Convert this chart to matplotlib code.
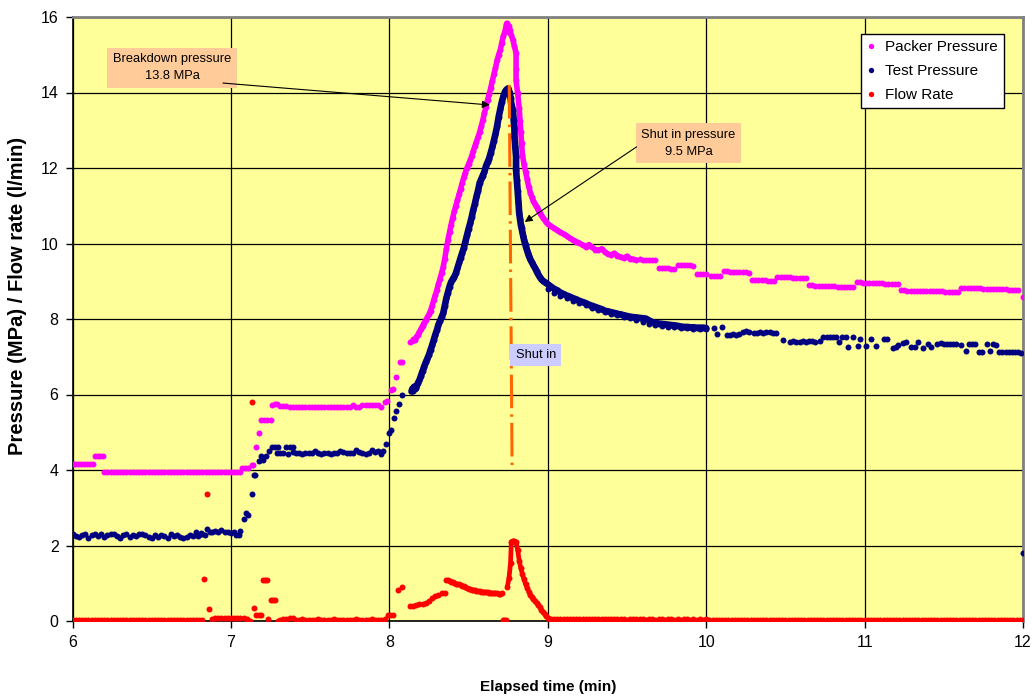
import numpy as np
import matplotlib.pyplot as plt

plt.rcParams['font.family'] = ['Liberation Sans', 'DejaVu Sans']

# ---------------- packer pressure (MPa) ----------------
# evenly logged stretches: (start min, end min, readings)
packer_runs = [
    (6.00, 6.13, [4.16, 4.16, 4.15, 4.16, 4.17, 4.16, 4.15, 4.16]),
    (6.145, 6.19, [4.36, 4.37, 4.37, 4.36]),
    (6.20, 7.06, [3.95, 3.96, 3.95, 3.95, 3.94, 3.95, 3.96, 3.95, 3.95, 3.95, 3.94,
                  3.95, 3.95, 3.96, 3.95, 3.95, 3.94, 3.95, 3.95, 3.95, 3.96, 3.95,
                  3.94, 3.95, 3.95, 3.95, 3.95, 3.96, 3.95, 3.94, 3.95, 3.95, 3.95,
                  3.96, 3.95, 3.95, 3.94, 3.95, 3.95, 3.95, 3.96, 3.95, 3.95, 3.95]),
    (7.31, 7.95, [5.70, 5.69, 5.70, 5.68, 5.68, 5.68, 5.67, 5.68, 5.68, 5.67, 5.66,
                  5.67, 5.68, 5.68, 5.67, 5.67, 5.68, 5.67, 5.66, 5.67, 5.68, 5.67,
                  5.66, 5.71, 5.68, 5.66, 5.71, 5.72, 5.71, 5.72, 5.72, 5.71, 5.66]),
    (9.58, 9.68, [9.58, 9.57, 9.56, 9.56, 9.55, 9.55]),
    (9.70, 9.80, [9.36, 9.35, 9.34, 9.34, 9.33, 9.33]),
    (9.82, 9.92, [9.44, 9.43, 9.43, 9.42, 9.42, 9.41]),
    (9.94, 10.00, [9.20, 9.19, 9.19, 9.18]),
    (10.03, 10.09, [9.15, 9.14, 9.14, 9.13]),
    (10.11, 10.27, [9.26, 9.26, 9.25, 9.25, 9.25, 9.24, 9.24, 9.24, 9.23]),
    (10.29, 10.43, [9.03, 9.03, 9.02, 9.02, 9.02, 9.01, 9.01, 9.01]),
    (10.45, 10.63, [9.11, 9.11, 9.10, 9.10, 9.10, 9.09, 9.09, 9.09, 9.08, 9.08]),
    (10.65, 10.93, [8.89, 8.89, 8.88, 8.88, 8.88, 8.87, 8.87, 8.87, 8.87, 8.86, 8.86,
                    8.86, 8.86, 8.85, 8.85]),
    (10.95, 11.21, [8.97, 8.97, 8.96, 8.96, 8.96, 8.95, 8.95, 8.95, 8.95, 8.94, 8.94,
                    8.94, 8.93, 8.93]),
    (11.23, 11.59, [8.76, 8.76, 8.75, 8.75, 8.75, 8.75, 8.74, 8.74, 8.74, 8.74, 8.73,
                    8.73, 8.73, 8.73, 8.72, 8.72, 8.72, 8.71, 8.71]),
    (11.61, 11.97, [8.82, 8.82, 8.82, 8.81, 8.81, 8.81, 8.81, 8.80, 8.80, 8.80, 8.80,
                    8.79, 8.79, 8.79, 8.79, 8.78, 8.78, 8.78, 8.78]),
]
# individual readings around the pressure steps: (min, MPa)
packer_points = [
    (7.07, 4.04), (7.09, 4.05), (7.11, 4.05), (7.13, 4.13), (7.14, 4.14),
    (7.16, 4.62), (7.18, 4.99), (7.19, 5.32), (7.21, 5.33), (7.23, 5.32),
    (7.25, 5.32), (7.26, 5.71), (7.28, 5.74), (7.29, 5.75),
    (7.97, 5.79), (7.985, 5.82), (8.01, 6.13), (8.025, 6.14), (8.045, 6.47),
    (8.07, 6.85), (8.08, 6.87), (8.13, 7.40), (8.14, 7.42), (8.15, 7.46), (8.16, 7.44),
    (12.00, 8.57),
]
# breakdown cycle, logged densely (one reading every 0.01 min on the rise)
packer_rise = (8.17, 8.74, [7.52, 7.58, 7.66, 7.74, 7.82, 7.90, 7.97, 8.04, 8.12, 8.22,
                            8.35, 8.50, 8.63, 8.77, 8.92, 9.07, 9.22, 9.38, 9.60, 9.85,
                            10.10, 10.30, 10.50, 10.68, 10.85, 11.00, 11.15, 11.30, 11.45,
                            11.60, 11.75, 11.88, 12.00, 12.10, 12.20, 12.32, 12.45, 12.58,
                            12.70, 12.82, 12.95, 13.10, 13.27, 13.45, 13.62, 13.80, 13.95,
                            14.12, 14.30, 14.48, 14.65, 14.85, 15.00, 15.12, 15.32, 15.50,
                            15.62, 15.83])
packer_fall = [
    (8.745, 15.72), (8.75, 15.60), (8.755, 15.76), (8.76, 15.66), (8.77, 15.52),
    (8.78, 15.39), (8.79, 15.22), (8.80, 15.04), (8.80, 14.62), (8.80, 14.32),
    (8.81, 13.98), (8.82, 13.58), (8.825, 13.25), (8.83, 12.95), (8.835, 12.65),
    (8.84, 12.35), (8.85, 12.10), (8.86, 11.90), (8.87, 11.70), (8.88, 11.50),
    (8.89, 11.35), (8.90, 11.22), (8.91, 11.12), (8.92, 11.04), (8.93, 10.96),
    (8.94, 10.90), (8.95, 10.82), (8.96, 10.75), (8.97, 10.68), (8.98, 10.62),
    (8.99, 10.57), (9.00, 10.52), (9.02, 10.46), (9.04, 10.40), (9.06, 10.35),
    (9.08, 10.30), (9.10, 10.25), (9.12, 10.20), (9.14, 10.14), (9.16, 10.09),
    (9.18, 10.05), (9.20, 10.01), (9.22, 9.96), (9.24, 9.92), (9.26, 9.97),
    (9.28, 9.90), (9.30, 9.84), (9.32, 9.82), (9.34, 9.86), (9.36, 9.78),
    (9.38, 9.72), (9.40, 9.70), (9.42, 9.74), (9.44, 9.68), (9.46, 9.64),
    (9.48, 9.62), (9.50, 9.66), (9.52, 9.60), (9.54, 9.58), (9.56, 9.56),
]

# ---------------- test interval pressure (MPa) ----------------
test_runs = [
    (6.00, 6.76, [2.30, 2.25, 2.22, 2.28, 2.30, 2.21, 2.28, 2.31, 2.24, 2.30, 2.22,
                  2.27, 2.31, 2.30, 2.26, 2.21, 2.29, 2.31, 2.22, 2.28, 2.25, 2.31,
                  2.30, 2.28, 2.22, 2.20, 2.27, 2.22, 2.29, 2.24, 2.21, 2.30, 2.26,
                  2.29, 2.23, 2.21, 2.22, 2.27, 2.24]),
    (7.41, 7.95, [4.45, 4.44, 4.43, 4.45, 4.44, 4.46, 4.50, 4.45, 4.43, 4.44, 4.45,
                  4.43, 4.44, 4.46, 4.50, 4.49, 4.45, 4.44, 4.46, 4.52, 4.47, 4.44,
                  4.42, 4.45, 4.52, 4.47, 4.50, 4.42]),
    # lower edge of the scattered band during the pressure decline
    (9.00, 10.00, [8.80, 8.70, 8.62, 8.55, 8.48, 8.42, 8.36, 8.30, 8.24, 8.19, 8.14,
                   8.10, 8.06, 8.02, 7.98, 7.93, 7.86, 7.83, 7.82, 7.80, 7.78, 7.76,
                   7.75, 7.74, 7.74, 7.73]),
]
test_points = [
    (6.78, 2.36), (6.79, 2.25), (6.80, 2.27), (6.81, 2.32), (6.82, 2.30),
    (6.835, 2.27), (6.85, 2.45), (6.865, 2.37), (6.88, 2.37), (6.90, 2.38),
    (6.92, 2.37), (6.94, 2.40), (6.96, 2.37), (6.98, 2.36), (7.00, 2.33),
    (7.02, 2.36), (7.035, 2.27), (7.05, 2.28), (7.06, 2.38),
    (7.08, 2.69), (7.095, 2.85), (7.105, 2.82), (7.13, 3.36), (7.145, 3.87),
    (7.155, 3.88), (7.175, 4.25), (7.19, 4.37), (7.205, 4.27), (7.22, 4.37),
    (7.24, 4.51), (7.26, 4.62), (7.28, 4.62), (7.29, 4.45), (7.30, 4.62),
    (7.31, 4.44), (7.33, 4.44), (7.35, 4.62), (7.36, 4.42), (7.37, 4.62),
    (7.39, 4.62), (7.39, 4.47),
    (7.96, 4.50), (7.98, 4.68), (8.00, 4.97), (8.01, 5.07), (8.03, 5.37),
    (8.045, 5.55), (8.06, 5.75), (8.08, 5.99),
    (10.05, 7.77), (10.07, 7.60), (10.10, 7.78), (10.13, 7.58), (10.15, 7.57),
    (10.17, 7.59), (10.19, 7.58), (10.21, 7.60), (10.23, 7.66), (10.25, 7.67),
    (10.27, 7.65), (10.30, 7.62), (10.32, 7.64), (10.34, 7.65), (10.36, 7.64),
    (10.38, 7.66), (10.40, 7.65), (10.42, 7.64), (10.44, 7.63), (10.485, 7.44),
    (10.53, 7.40), (10.55, 7.41), (10.57, 7.40), (10.59, 7.39), (10.61, 7.41),
    (10.63, 7.40), (10.65, 7.42), (10.67, 7.41), (10.69, 7.39), (10.72, 7.42),
    (10.74, 7.52), (10.76, 7.52), (10.78, 7.51), (10.80, 7.52), (10.82, 7.51),
    (10.84, 7.40), (10.86, 7.52), (10.88, 7.52), (10.895, 7.27), (10.93, 7.52),
    (10.96, 7.29), (10.97, 7.46), (11.01, 7.29), (11.04, 7.46), (11.07, 7.29),
    (11.12, 7.46), (11.14, 7.46), (11.18, 7.24), (11.20, 7.27), (11.21, 7.31),
    (11.24, 7.36), (11.26, 7.38), (11.29, 7.27), (11.32, 7.27), (11.34, 7.38),
    (11.37, 7.22), (11.40, 7.33), (11.42, 7.27), (11.46, 7.35), (11.48, 7.36),
    (11.50, 7.35), (11.52, 7.35), (11.54, 7.34), (11.56, 7.35), (11.58, 7.33),
    (11.61, 7.32), (11.64, 7.15), (11.66, 7.33), (11.68, 7.34), (11.70, 7.33),
    (11.72, 7.13), (11.74, 7.12), (11.77, 7.33), (11.79, 7.14), (11.81, 7.33),
    (11.83, 7.32), (11.85, 7.13), (11.87, 7.13), (11.89, 7.12), (11.91, 7.13),
    (11.93, 7.13), (11.95, 7.12), (11.97, 7.12), (11.99, 7.11), (12.00, 1.79),
]
test_start = [
    (8.14, 6.08), (8.145, 6.15), (8.15, 6.10), (8.155, 6.20), (8.16, 6.14),
    (8.165, 6.22), (8.17, 6.18),
]
test_rise = (8.18, 8.75, [6.30, 6.38, 6.50, 6.62, 6.74, 6.85, 6.95, 7.05, 7.18, 7.30,
                          7.44, 7.58, 7.70, 7.85, 7.95, 8.05, 8.15, 8.35, 8.55, 8.70,
                          8.86, 8.98, 9.05, 9.12, 9.21, 9.35, 9.50, 9.62, 9.75, 9.88,
                          10.05, 10.22, 10.38, 10.53, 10.70, 10.89, 11.05, 11.24, 11.40,
                          11.60, 11.70, 11.80, 11.90, 12.05, 12.15, 12.25, 12.40, 12.55,
                          12.72, 12.90, 13.10, 13.35, 13.55, 13.75, 13.90, 14.02, 14.08,
                          14.11])
test_fall = [
    (8.76, 14.00), (8.765, 13.85), (8.77, 13.70), (8.78, 13.54), (8.785, 13.27),
    (8.79, 13.05), (8.79, 12.83), (8.795, 12.56), (8.80, 12.30), (8.80, 11.95),
    (8.805, 11.68), (8.81, 11.40), (8.815, 11.10), (8.82, 10.80), (8.825, 10.65),
    (8.83, 10.50), (8.835, 10.40), (8.84, 10.30), (8.845, 10.20), (8.85, 10.10),
    (8.855, 10.02), (8.86, 9.95), (8.865, 9.88), (8.87, 9.80), (8.875, 9.74),
    (8.88, 9.68), (8.89, 9.58), (8.90, 9.50), (8.91, 9.42), (8.92, 9.35),
    (8.93, 9.26), (8.94, 9.18), (8.95, 9.11), (8.96, 9.05), (8.97, 9.01),
]
test_decay = (8.98, 10.00, [8.98, 8.92, 8.86, 8.80, 8.76, 8.70, 8.66, 8.62, 8.59, 8.55,
                            8.52, 8.48, 8.45, 8.42, 8.38, 8.35, 8.32, 8.29, 8.26, 8.22,
                            8.20, 8.18, 8.16, 8.14, 8.12, 8.10, 8.08, 8.06, 8.05, 8.04,
                            8.03, 8.02, 8.01, 7.96, 7.92, 7.90, 7.88, 7.87, 7.86, 7.85,
                            7.84, 7.83, 7.82, 7.80, 7.79, 7.79, 7.78, 7.78, 7.77, 7.77,
                            7.77, 7.76])

# ---------------- injection flow rate (l/min) ----------------
flow_runs = [
    (6.00, 6.82, [0.03, 0.02, 0.03, 0.02, 0.03, 0.03, 0.02, 0.03, 0.02, 0.03, 0.03,
                  0.02, 0.02, 0.03, 0.03, 0.02, 0.03, 0.02, 0.03, 0.03, 0.02, 0.03,
                  0.02, 0.03, 0.03, 0.02, 0.03, 0.02, 0.02, 0.03, 0.03, 0.02, 0.03,
                  0.02, 0.03, 0.03, 0.02, 0.03, 0.02, 0.03, 0.03, 0.02]),
    (6.88, 7.10, [0.05, 0.07, 0.08, 0.07, 0.07, 0.08, 0.07, 0.07, 0.08, 0.07, 0.07,
                  0.06]),
    (7.41, 7.97, [0.03, 0.02, 0.04, 0.03, 0.03, 0.02, 0.03, 0.04, 0.03, 0.02, 0.03,
                  0.03, 0.04, 0.03, 0.02, 0.03, 0.03, 0.02, 0.03, 0.04, 0.03, 0.02,
                  0.03, 0.03, 0.04, 0.03, 0.02, 0.03, 0.04]),
    (8.13, 8.35, [0.40, 0.40, 0.42, 0.44, 0.46, 0.48, 0.52, 0.62, 0.66, 0.70, 0.73,
                  0.75]),
    (8.36, 8.71, [1.09, 1.08, 1.06, 1.04, 1.02, 1.00, 0.99, 0.98, 0.97, 0.95, 0.94,
                  0.92, 0.90, 0.88, 0.86, 0.84, 0.83, 0.82, 0.81, 0.80, 0.79, 0.79,
                  0.78, 0.78, 0.77, 0.76, 0.76, 0.75, 0.74, 0.74, 0.73, 0.73, 0.73,
                  0.72, 0.72, 0.73]),
    (9.02, 10.00, [0.05, 0.04, 0.05, 0.05, 0.04, 0.05, 0.04, 0.05, 0.05, 0.04, 0.04,
                   0.05, 0.04, 0.04, 0.05, 0.04, 0.04, 0.05, 0.04, 0.04, 0.04, 0.05,
                   0.04, 0.04, 0.03, 0.04, 0.04, 0.05, 0.04, 0.04, 0.03, 0.04, 0.04,
                   0.03, 0.04, 0.04, 0.03, 0.04, 0.04, 0.03, 0.04, 0.03, 0.04, 0.04,
                   0.03, 0.04, 0.03, 0.04, 0.03, 0.04]),
    (10.02, 12.00, [0.03, 0.02, 0.03, 0.03, 0.02, 0.03, 0.02, 0.03, 0.03, 0.02, 0.03,
                    0.03, 0.02, 0.03, 0.02, 0.03, 0.03, 0.02, 0.03, 0.02, 0.03, 0.03,
                    0.02, 0.03, 0.03, 0.02, 0.03, 0.02, 0.03, 0.03, 0.02, 0.03, 0.03,
                    0.02, 0.03, 0.02, 0.03, 0.03, 0.02, 0.03, 0.03, 0.02, 0.03, 0.02,
                    0.03, 0.03, 0.02, 0.03, 0.03, 0.02, 0.03, 0.02, 0.03, 0.03, 0.02,
                    0.03, 0.03, 0.02, 0.03, 0.02, 0.03, 0.03, 0.02, 0.03, 0.03, 0.02,
                    0.03, 0.02, 0.03, 0.03, 0.02, 0.03, 0.03, 0.02, 0.03, 0.02, 0.03,
                    0.03, 0.02, 0.03, 0.03, 0.02, 0.03, 0.02, 0.03, 0.03, 0.02, 0.03,
                    0.03, 0.02, 0.03, 0.02, 0.03, 0.03, 0.02, 0.03, 0.03, 0.02, 0.03,
                    0.02]),
]
flow_points = [
    (6.83, 1.10), (6.847, 3.36), (6.86, 0.31),
    (7.12, 0.01), (7.13, 5.79), (7.145, 0.35), (7.16, 0.16), (7.175, 0.16),
    (7.19, 0.16), (7.205, 1.09), (7.215, 1.09), (7.225, 1.09), (7.235, 0.05),
    (7.25, 0.56), (7.265, 0.56), (7.28, 0.55), (7.295, 0.01), (7.31, 0.02),
    (7.33, 0.05), (7.35, 0.06), (7.37, 0.08), (7.39, 0.07),
    (7.99, 0.15), (8.005, 0.16), (8.02, 0.16), (8.055, 0.82), (8.08, 0.91),
    (8.715, 0.03), (8.725, 0.02), (8.735, 0.03),
]
flow_peak = [
    (8.745, 0.91), (8.755, 1.13), (8.765, 1.53), (8.77, 2.10), (8.78, 2.12),
    (8.79, 2.11), (8.80, 2.10), (8.81, 1.88), (8.82, 1.60), (8.83, 1.40),
    (8.84, 1.25), (8.85, 1.10), (8.86, 0.98), (8.87, 0.88), (8.88, 0.78),
    (8.89, 0.70), (8.90, 0.64), (8.91, 0.59), (8.92, 0.54), (8.93, 0.47),
    (8.94, 0.42), (8.95, 0.36), (8.96, 0.30), (8.97, 0.24), (8.98, 0.19),
    (8.99, 0.13), (9.00, 0.09), (9.01, 0.06),
]

# shut-in marker line and annotated values
shut_in_t = [8.757, 8.775]
shut_in_y = [14.2, 4.0]
breakdown_p = 13.8
shut_in_p = 9.5


def run_xy(run):
    a, b, v = run
    return np.linspace(a, b, len(v)), np.asarray(v, float)


def pts_xy(points):
    p = np.asarray(points, float)
    return p[:, 0], p[:, 1]


def collect(runs, points):
    parts = [run_xy(r) for r in runs] + [pts_xy(points)]
    return (np.concatenate([p[0] for p in parts]),
            np.concatenate([p[1] for p in parts]))


def chain(*parts):
    return (np.concatenate([p[0] for p in parts]),
            np.concatenate([p[1] for p in parts]))


pk_t, pk_v = collect(packer_runs, packer_points)
tp_t, tp_v = collect(test_runs, test_points)
fl_t, fl_v = collect(flow_runs, flow_points)

# densely logged stretches, where the dots merge into a solid band
pk_dense = chain(run_xy(packer_rise), pts_xy(packer_fall))
tp_dense = chain(pts_xy(test_start), run_xy(test_rise), pts_xy(test_fall),
                 run_xy(test_decay))
fl_dense = pts_xy(flow_peak)

fig = plt.figure(figsize=(10.33, 6.98), dpi=100)
ax = fig.add_axes([72.5 / 1033, 1 - 621 / 698, 950.5 / 1033, 604 / 698])
ax.set_facecolor('#FFFF99')

ms = 4.3
series = [
    ('Packer Pressure', '#FF00FF', pk_t, pk_v, pk_dense, 3, 4.0),
    ('Test Pressure', '#000080', tp_t, tp_v, tp_dense, 4, 4.8),
    ('Flow Rate', '#FF0000', fl_t, fl_v, fl_dense, 5, 3.4),
]
for name, col, t, v, dense, z, band in series:
    ax.plot(t, v, 'o', color=col, ms=ms, mew=0, label=name, zorder=z)
    ax.plot(dense[0], dense[1], '-o', color=col, ms=ms, mew=0, lw=band,
            solid_capstyle='round', solid_joinstyle='round', zorder=z)

ax.plot(shut_in_t, shut_in_y, color='#FF6600', lw=2.2,
        linestyle=(0, (11, 2.0, 0.8, 2.0)), zorder=6)

ax.set_xlim(6, 12)
ax.set_ylim(0, 16)
ax.set_xticks(range(6, 13))
ax.set_yticks(range(0, 17, 2))
ax.grid(True, color='black', lw=0.9)
ax.set_axisbelow(True)
ax.tick_params(direction='out', length=5, width=1, labelsize=11.5, pad=5)
for side in ['left', 'bottom']:
    ax.spines[side].set_color('black')
    ax.spines[side].set_linewidth(1.2)
for side in ['top', 'right']:
    ax.spines[side].set_color('#808080')
    ax.spines[side].set_linewidth(2)

ax.set_xlabel('Elapsed time (min)', fontsize=11, fontweight='bold', labelpad=22)
fig.text(18 / 1033, 1 - 296 / 698, 'Pressure (MPa) / Flow rate (l/min)', rotation=90,
         ha='center', va='center', fontsize=14.5, fontweight='bold')

# annotation boxes
ax.text(6.628, 14.65, 'Breakdown pressure\n%.1f MPa' % breakdown_p, ha='center', va='center',
        fontsize=9.3, linespacing=1.55, zorder=7,
        bbox=dict(boxstyle='square,pad=0.45', fc='#FFCC99', ec='none'))
ax.text(9.889, 12.66, 'Shut in pressure\n%.1f MPa' % shut_in_p, ha='center', va='center',
        fontsize=9.3, linespacing=1.55, zorder=7,
        bbox=dict(boxstyle='square,pad=0.4', fc='#FFCC99', ec='none'))
ax.text(8.924, 7.05, 'Shut in', ha='center', va='center', fontsize=9.3, zorder=7,
        bbox=dict(boxstyle='square,pad=0.4', fc='#CCCCFF', ec='none'))

arrow = dict(arrowstyle='-|>', color='black', lw=0.8, mutation_scale=11,
             shrinkA=0, shrinkB=0)
ax.annotate('', xy=(8.634, 13.67), xytext=(6.95, 14.25), arrowprops=arrow, zorder=8)
ax.annotate('', xy=(8.855, 10.57), xytext=(9.561, 12.56), arrowprops=arrow, zorder=8)

leg = ax.legend(loc='upper right', bbox_to_anchor=(0.980, 0.972), fontsize=11,
                frameon=True, fancybox=False, edgecolor='black', framealpha=1,
                handlelength=0.6, handletextpad=0.6, labelspacing=0.65,
                borderpad=0.4, borderaxespad=0, markerscale=0.9)
leg.get_frame().set_linewidth(1)
leg.set_zorder(10)

fig.savefig('out.png', dpi=100, facecolor='white')
